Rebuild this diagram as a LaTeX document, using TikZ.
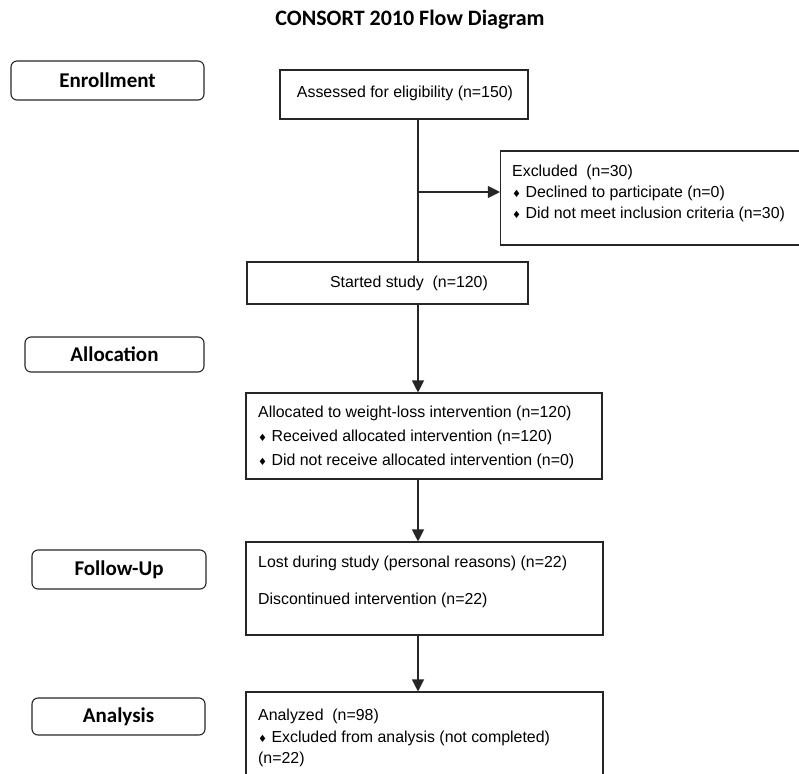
\documentclass[tikz,border=0pt]{standalone}
\usepackage{fontspec}
\setmainfont{Liberation Sans}
\newfontfamily\calib{Carlito}
\newfontfamily\dej{DejaVu Sans}
\usetikzlibrary{arrows.meta}
\newcommand{\bul}{{\dej\fontsize{10}{10}\selectfont ♦}\ }
\begin{document}
\begin{tikzpicture}[x=1pt,y=-1pt,
  box/.style={draw=black!85, line width=1.1pt, rectangle, inner sep=0pt},
  stage/.style={draw=black!85, line width=1.1pt, rectangle, rounded corners=6pt, inner sep=0pt, font=\calib\bfseries\fontsize{21}{24}\selectfont},
  txt/.style={anchor=west, inner sep=0pt, font=\fontsize{15.9}{18}\selectfont},
  ctxt/.style={inner sep=0pt, font=\fontsize{15.9}{18}\selectfont},
  conn/.style={draw=black!85, line width=1.1pt},
  arr/.style={conn, -{Triangle[length=12pt,width=12pt]}}]
\useasboundingbox (0,0) rectangle (799,773);

% title
\node[inner sep=0pt, font=\calib\bfseries\fontsize{22}{26}\selectfont] (title) at (410,20) {CONSORT 2010 Flow Diagram};

% stage labels
\node[stage, minimum width=193pt, minimum height=39pt] (enr) at (107.5,80.5) {Enrollment};
\node[stage, minimum width=179pt, minimum height=35pt] (alc) at (114.5,354.5) {Allocation};
\node[stage, minimum width=174pt, minimum height=39pt] (fol) at (119,569.5) {Follow-Up};
\node[stage, minimum width=173pt, minimum height=37pt] (ana) at (118.5,716.5) {Analysis};

% boxes
\node[box, minimum width=248pt, minimum height=49pt] (assess) at (404,94.5) {};
\node[ctxt] (assesst) at (405,93) {Assessed for eligibility (n=150)};

\node[box, minimum width=305pt, minimum height=94pt] (excl) at (653,198) {};
\node[txt] (ex1) at (512,172) {Excluded\ \ (n=30)};
\node[txt] (ex2) at (512,193) {\bul Declined to participate (n=0)};
\node[txt] (ex3) at (512,214) {\bul Did not meet inclusion criteria (n=30)};

\node[box, minimum width=281pt, minimum height=42pt] (start) at (387.5,283) {};
\node[ctxt] (startt) at (409,283) {Started study\ \ (n=120)};

\node[box, minimum width=356pt, minimum height=86pt] (alloc) at (424,436) {};
\node[txt] (al1) at (258,413) {Allocated to weight-loss intervention (n=120)};
\node[txt] (al2) at (258,437) {\bul Received allocated intervention (n=120)};
\node[txt] (al3) at (258,461) {\bul Did not receive allocated intervention (n=0)};

\node[box, minimum width=357pt, minimum height=93pt] (lost) at (424.5,588.5) {};
\node[txt] (lo1) at (258,563) {Lost during study (personal reasons) (n=22)};
\node[txt] (lo2) at (258,600) {Discontinued intervention (n=22)};

\node[box, minimum width=357pt, minimum height=90pt] (anal) at (424.5,737) {};
\node[txt] (an1) at (258,716) {Analyzed\ \ (n=98)};
\node[txt] (an2) at (258,738) {\bul Excluded from analysis (not completed)};
\node[txt] (an3) at (258,759) {(n=22)};

% connectors
\coordinate (vx) at (418,0);
\coordinate (br) at (418,192);
\draw[conn] (assess.south -| vx) -- (start.north -| vx);
\draw[arr] (br) -- (br -| excl.west);
\draw[arr] (start.south -| vx) -- (alloc.north -| vx);
\draw[arr] (alloc.south -| vx) -- (lost.north -| vx);
\draw[arr] (lost.south -| vx) -- (anal.north -| vx);
\end{tikzpicture}
\end{document}
